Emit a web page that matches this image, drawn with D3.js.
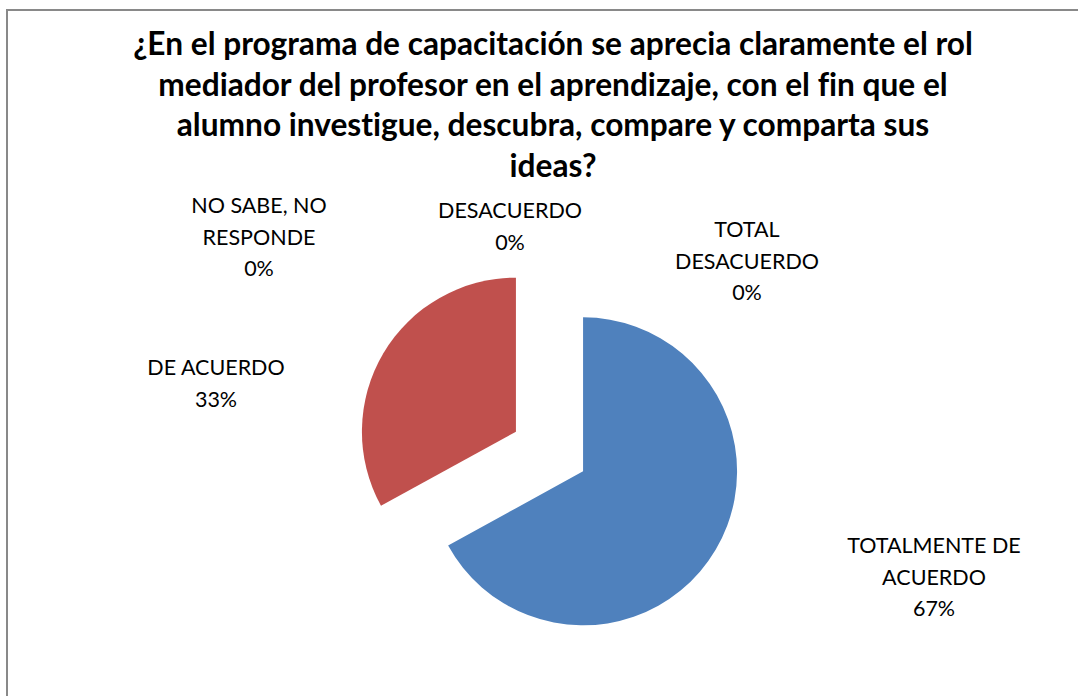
<!DOCTYPE html>
<html>
<head>
<meta charset="utf-8">
<script src="https://cdn.jsdelivr.net/npm/d3@7"></script>
<style>
  html, body { margin: 0; padding: 0; background: #fff; }
  svg { display: block; }
  text { font-family: Lato, "Open Sans", sans-serif; fill: #000; font-variant-ligatures: none; font-feature-settings: "liga" 0, "clig" 0; }
</style>
</head>
<body>
<svg id="chart" width="1078" height="696"></svg>
<script>
// ---- data ----
const titleLines = [
  "¿En el programa de capacitación se aprecia claramente el rol",
  "mediador del profesor en el aprendizaje, con el fin que el",
  "alumno investigue, descubra, compare y comparta sus",
  "ideas?"
];
const categories = ["TOTALMENTE DE ACUERDO", "DE ACUERDO", "NO SABE, NO RESPONDE", "DESACUERDO", "TOTAL DESACUERDO"];
const values = [67, 33, 0, 0, 0];
const labelLines = [
  ["TOTALMENTE DE", "ACUERDO"],
  ["DE ACUERDO"],
  ["NO SABE, NO", "RESPONDE"],
  ["DESACUERDO"],
  ["TOTAL", "DESACUERDO"]
];
const colors = ["#4F81BD", "#C0504D", "#9BBB59", "#8064A2", "#4BACC6"];

// ---- layout ----
const W = 1078, H = 696;
const svg = d3.select("#chart");

// border (extends beyond right/bottom edges)
svg.append("rect")
  .attr("x", 7).attr("y", 10)
  .attr("width", W + 20).attr("height", H + 20)
  .attr("fill", "#fff").attr("stroke", "#898989").attr("stroke-width", 2);

// title
const titleG = svg.append("g");
const titleSize = 27;
titleLines.forEach((t, i) => {
  titleG.append("text")
    .attr("x", 553).attr("y", 55 + i * 40.5)
    .attr("text-anchor", "middle")
    .style("font-weight", "bold")
    .style("font-size", titleSize + "px")
    .text(t);
});
// fit first title line width to ~840px
{
  const first = titleG.select("text").node();
  const w = first.getComputedTextLength();
  const fs = titleSize * 840 / w;
  titleG.selectAll("text").style("font-size", fs + "px");
}

// pie
const cx = 549.5, cy = 451.5, R = 154, explode = 39;
const pie = d3.pie().sort(null).value(d => d)(values);
const arc = d3.arc().innerRadius(0).outerRadius(R);
const pieG = svg.append("g").attr("transform", `translate(${cx},${cy})`);
pieG.selectAll("path")
  .data(pie.filter(d => d.value > 0))
  .join("path")
  .attr("d", arc)
  .attr("fill", d => colors[d.index])
  .attr("transform", d => {
    const a = (d.startAngle + d.endAngle) / 2;
    return `translate(${Math.sin(a) * explode},${-Math.cos(a) * explode})`;
  });

// data labels (center x, first baseline y)
const labelPos = [
  [934, 553],
  [216, 375],
  [259, 213],
  [510, 218],
  [747, 237]
];
const fmt = d3.format(".0%");
const total = d3.sum(values);
const lblG = svg.append("g");
const lblSize = 20;
categories.forEach((c, i) => {
  const lines = labelLines[i].concat([fmt(values[i] / total)]);
  const t = lblG.append("text")
    .attr("text-anchor", "middle")
    .style("font-size", lblSize + "px");
  lines.forEach((ln, j) => {
    t.append("tspan")
      .attr("x", labelPos[i][0])
      .attr("y", labelPos[i][1] + j * 31.5)
      .text(ln);
  });
});
// fit label font: "DESACUERDO" ~ 144px wide
{
  const tmp = svg.append("text").style("font-size", lblSize + "px").text("DESACUERDO");
  const w = tmp.node().getComputedTextLength();
  tmp.remove();
  lblG.selectAll("text").style("font-size", (lblSize * 144 / w) + "px");
}
</script>
</body>
</html>
